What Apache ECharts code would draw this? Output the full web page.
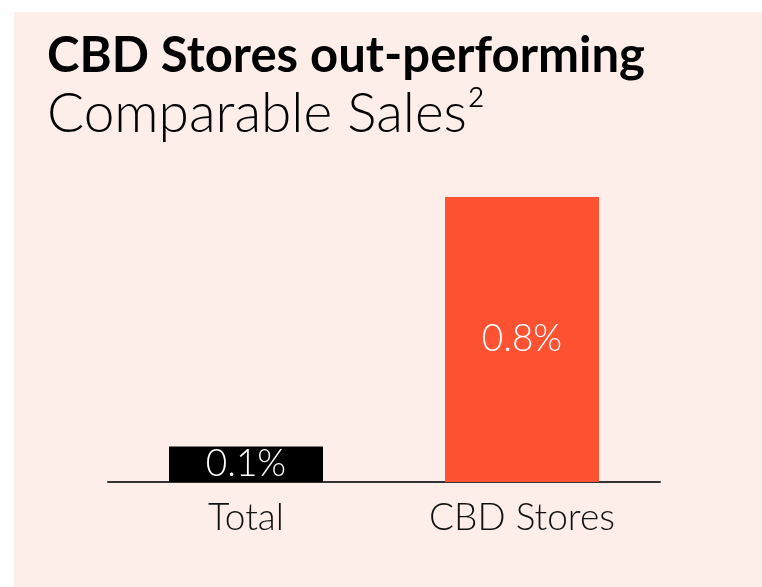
<!DOCTYPE html>
<html><head><meta charset="utf-8">
<script src="https://cdn.jsdelivr.net/npm/echarts@6/dist/echarts.min.js"></script>
<style>html,body{margin:0;padding:0;background:#fff}#c{width:762px;height:587px}</style>
</head><body><div id="c"></div>
<script>
const categories = ['Total', 'CBD Stores'];
const values = [0.1, 0.8];
const labels = ['0.1%', '0.8%'];
const barColors = ['#000000', '#FF5233'];
const titleText = 'CBD Stores out-performing';
const subtitleText = 'Comparable Sales\u00B2';

const chart = echarts.init(document.getElementById('c'));
const FONT = 'Lato, "Noto Sans", sans-serif';
chart.setOption({
  backgroundColor: '#ffffff',
  animation: false,
  graphic: [{
    type: 'rect', left: 14, top: 12, z: -10,
    shape: { width: 762, height: 587 },
    style: { fill: '#FDEEEA' }
  }],
  title: [{
    text: titleText, left: 42, top: 27,
    textStyle: { fontFamily: FONT, fontWeight: 'bold', fontSize: 49, color: '#000' }
  }, {
    text: subtitleText, left: 42, top: 82,
    textStyle: { fontFamily: FONT, fontWeight: 300, fontSize: 55, color: '#000' }
  }],
  grid: { left: 108, right: 102, top: 197, bottom: 105 },
  xAxis: {
    type: 'category', data: categories,
    axisLine: { lineStyle: { color: '#333', width: 2 } },
    axisTick: { show: false },
    axisLabel: { fontFamily: FONT, fontWeight: 300, fontSize: 37, color: '#111', margin: 18 }
  },
  yAxis: { type: 'value', min: 0, max: 0.8, show: false, splitLine: { show: false } },
  series: [{
    type: 'bar', barWidth: 154,
    data: values.map((v, i) => ({ value: v, itemStyle: { color: barColors[i] } })),
    label: {
      show: true, position: 'inside', color: '#fff', fontFamily: FONT, fontWeight: 300, fontSize: 37,
      formatter: p => labels[p.dataIndex]
    }
  }]
});
</script></body></html>
